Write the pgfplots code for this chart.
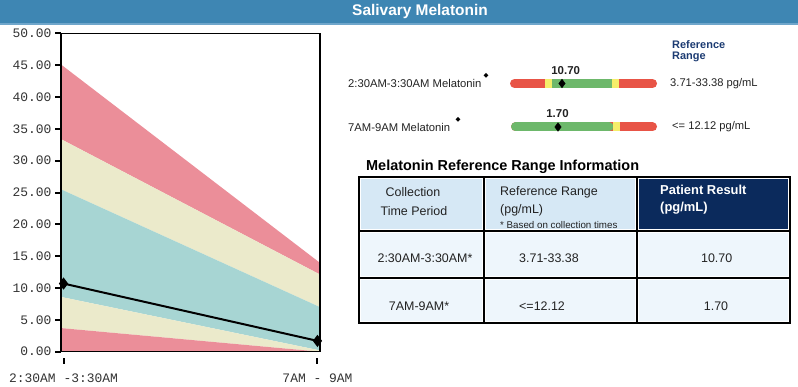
\documentclass[border=0pt]{standalone}
\usepackage{pgfplots}
\pgfplotsset{compat=1.18}
\usepackage{fontspec}
\setmainfont{Liberation Sans}
\setmonofont{Liberation Mono}
\newfontfamily\djv{DejaVu Sans}
\definecolor{titleblue}{HTML}{3E86B3}
\definecolor{titlestripe}{HTML}{6FA6CB}
\definecolor{bandred}{HTML}{EB8E99}
\definecolor{bandyel}{HTML}{EBEACB}
\definecolor{bandteal}{HTML}{A7D5D3}
\definecolor{barred}{HTML}{E85446}
\definecolor{baryel}{HTML}{F5EE6A}
\definecolor{bargreen}{HTML}{6DB86B}
\definecolor{tablelight}{HTML}{D6E8F5}
\definecolor{tablebody}{HTML}{EEF6FC}
\definecolor{navy}{HTML}{0B2A5C}
\definecolor{refblue}{HTML}{1C3B72}
\definecolor{tickgray}{HTML}{333333}
\definecolor{txt}{HTML}{222222}
\newcommand{\fs}[1]{\fontsize{#1}{#1}\selectfont}
\begin{document}
\begin{tikzpicture}[x=1bp,y=1bp]
\path[use as bounding box] (0,0) rectangle (798,386);
% title bar
\fill[titleblue] (0,362.5) rectangle (798,386);
\fill[titlestripe] (0,361) rectangle (798,362.5);
\node[white,font=\bfseries\fs{15.5}] at (420,374) {Salivary Melatonin};

% main chart
\begin{axis}[at={(61bp,34.3bp)}, anchor=south west, scale only axis,
  width=259bp, height=318.4bp,
  xmin=-0.01, xmax=1.01, ymin=0, ymax=50,
  ytick={0,5,...,50}, ytick pos=left, xtick pos=left,
  xtick={0,1}, xticklabels={2:30AM -3:30AM, 7AM - 9AM},
  x tick style={draw=none},
  xticklabel style={font=\ttfamily\fs{13}, color=tickgray, yshift=-13bp},
  yticklabel style={font=\ttfamily\fs{13}, color=tickgray,
     /pgf/number format/fixed, /pgf/number format/fixed zerofill,
     /pgf/number format/precision=2, /pgf/number format/assume math mode=true},
  tick align=outside, major tick length=6bp,
  y tick style={black, line width=2bp},
  axis line style={black, line width=1.2bp},
  clip=false, axis on top]
\addplot[fill=bandred, draw=none] coordinates {(-0.01,45.1) (1.01,13.95) (1.01,12.12) (-0.01,33.38)} -- cycle;
\addplot[fill=bandyel, draw=none] coordinates {(-0.01,33.38) (1.01,12.12) (1.01,7.0) (-0.01,25.5)} -- cycle;
\addplot[fill=bandteal, draw=none] coordinates {(-0.01,25.5) (1.01,7.0) (1.01,0.2) (-0.01,8.6)} -- cycle;
\addplot[fill=bandyel, draw=none] coordinates {(-0.01,8.6) (1.01,0.2) (1.01,0.0) (-0.01,3.71)} -- cycle;
\addplot[fill=bandred, draw=none] coordinates {(-0.01,3.71) (1.01,0.0) (-0.01,0.0)} -- cycle;
\addplot[black, line width=2bp, mark=diamond*, mark size=4.5bp, mark options={solid}] coordinates {(0,10.70) (1,1.70)};
\draw[line width=2.4bp] (rel axis cs:0,0) -- (rel axis cs:0,1);
\draw[line width=2bp] (axis cs:0,0) ++(0bp,-6.5bp) -- ++(0bp,-6bp);
\draw[line width=2bp] (axis cs:1,0) ++(0bp,-6.5bp) -- ++(0bp,-6bp);
\end{axis}

% range bars (pixel-space overlay axis)
\begin{axis}[at={(0bp,0bp)}, anchor=south west, scale only axis,
  width=798bp, height=386bp, xmin=0, xmax=798, ymin=0, ymax=386,
  y dir=reverse, hide axis, clip=false]
\addplot[barred, line width=9bp, line cap=round] coordinates {(514.5,83.5) (652.5,83.5)};
\addplot[baryel, line width=9bp] coordinates {(545,83.5) (552,83.5)};
\addplot[bargreen, line width=9bp] coordinates {(552,83.5) (612,83.5)};
\addplot[baryel, line width=9bp] coordinates {(612,83.5) (619,83.5)};
\addplot[black, only marks, mark=diamond*, mark size=4.3bp] coordinates {(562,83.5)};
\addplot[barred, line width=9bp, line cap=round] coordinates {(515.5,127) (652.5,127)};
\addplot[bargreen, line width=9bp, line cap=round] coordinates {(515.5,127) (609,127)};
\addplot[baryel, line width=9bp] coordinates {(613,127) (620,127)};
\addplot[black, only marks, mark=diamond*, mark size=4.3bp] coordinates {(558,127)};
\end{axis}

% right panel text
\node[anchor=west, text=txt, font=\fs{11.3}, inner sep=0] at (348,{386-83.5}) {2:30AM-3:30AM Melatonin};
\node[text=black, font=\djv\fs{6.5}, inner sep=0] at (486,{386-76}) {◆};
\node[anchor=west, text=txt, font=\fs{11.3}, inner sep=0] at (348,{386-127}) {7AM-9AM Melatonin};
\node[text=black, font=\djv\fs{6.5}, inner sep=0] at (458,{386-120}) {◆};
\node[text=txt, font=\bfseries\fs{11.5}, inner sep=0] at (565.7,{386-70.7}) {10.70};
\node[text=txt, font=\bfseries\fs{11.5}, inner sep=0] at (557.5,{386-114}) {1.70};
\node[anchor=west, text=refblue, font=\bfseries\fs{11}, inner sep=0] at (672,{386-45}) {Reference};
\node[anchor=west, text=refblue, font=\bfseries\fs{11}, inner sep=0] at (672,{386-56.5}) {Range};
\node[anchor=west, text=txt, font=\fs{11.2}, inner sep=0] at (670,{386-83.5}) {3.71-33.38 pg/mL};
\node[anchor=west, text=txt, font=\fs{11.2}, inner sep=0] at (672,{386-127}) {<= 12.12 pg/mL};

% table
\node[anchor=west, text=black, font=\bfseries\fs{14.5}, inner sep=0] at (366,{386-167}) {Melatonin Reference Range Information};
\fill[tablelight] (361,{386-229}) rectangle (482,{386-179});
\fill[tablelight] (486,{386-229}) rectangle (635,{386-179});
\fill[navy] (639,{386-229}) rectangle (788,{386-179});
\foreach \a/\b in {233/276, 280/321}{
  \fill[tablebody] (361,{386-\b}) rectangle (482,{386-\a});
  \fill[tablebody] (486,{386-\b}) rectangle (635,{386-\a});
  \fill[tablebody] (639,{386-\b}) rectangle (788,{386-\a});
}
\draw[black, line width=2bp] (359,{386-177}) rectangle (790,{386-323});
\draw[black, line width=1.8bp] (484,{386-177}) -- (484,{386-323});
\draw[black, line width=1.8bp] (637,{386-177}) -- (637,{386-323});
\draw[black, line width=1.8bp] (359,{386-231}) -- (790,{386-231});
\draw[black, line width=1.8bp] (359,{386-278}) -- (790,{386-278});

\node[text=txt, font=\fs{12.5}, inner sep=0] at (413,{386-192}) {Collection};
\node[text=txt, font=\fs{12.5}, inner sep=0] at (414,{386-211}) {Time Period};
\node[anchor=west, text=txt, font=\fs{12.5}, inner sep=0] at (500,{386-192}) {Reference Range};
\node[anchor=west, text=txt, font=\fs{12.5}, inner sep=0] at (500,{386-210}) {(pg/mL)};
\node[anchor=west, text=txt, font=\fs{9.8}, inner sep=0] at (500,{386-225}) {* Based on collection times};
\node[anchor=west, text=white, font=\bfseries\fs{13}, inner sep=0] at (660,{386-190}) {Patient Result};
\node[anchor=west, text=white, font=\bfseries\fs{13}, inner sep=0] at (660,{386-208}) {(pg/mL)};
\node[text=txt, font=\fs{12.5}, inner sep=0] at (425,{386-258}) {2:30AM-3:30AM*};
\node[anchor=west, text=txt, font=\fs{12.5}, inner sep=0] at (519,{386-258}) {3.71-33.38};
\node[text=txt, font=\fs{12.5}, inner sep=0] at (716.7,{386-258}) {10.70};
\node[text=txt, font=\fs{12.5}, inner sep=0] at (419,{386-306}) {7AM-9AM*};
\node[anchor=west, text=txt, font=\fs{12.5}, inner sep=0] at (519,{386-306}) {<=12.12};
\node[text=txt, font=\fs{12.5}, inner sep=0] at (716,{386-306}) {1.70};
\end{tikzpicture}
\end{document}
